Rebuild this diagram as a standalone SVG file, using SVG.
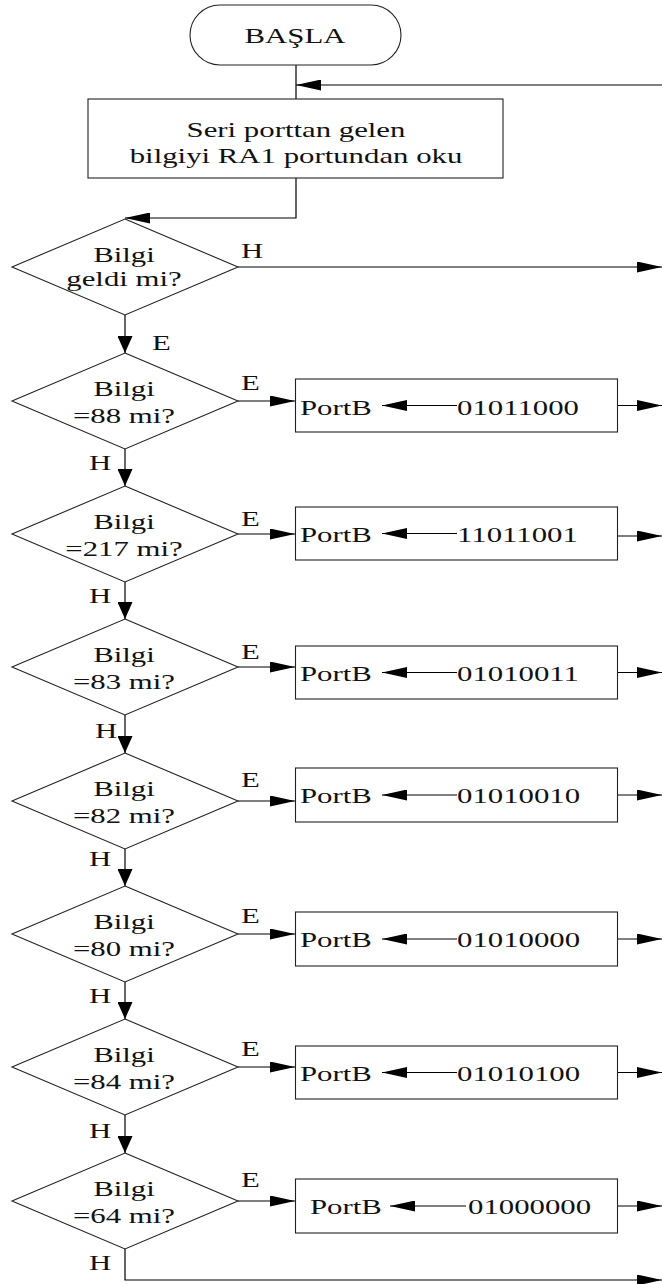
<svg xmlns="http://www.w3.org/2000/svg" width="662" height="1284" viewBox="0 0 662 1284">
  <defs>
    <style>
      .shape { fill: #fff; stroke: #222; stroke-width: 1.1; }
      .wire { fill: none; stroke: #000; stroke-width: 1.2; }
      .h { marker-end: url(#ah); }
      .v { marker-end: url(#av); }
      text { font-family: "Liberation Serif", "Times New Roman", serif; font-size: 22px; fill: #111; }
      .c { text-anchor: middle; }
    </style>
    <!-- long, narrow head for horizontal runs -->
    <marker id="ah" markerUnits="userSpaceOnUse" markerWidth="25" markerHeight="11" refX="25" refY="5.5" orient="auto">
      <path d="M0,0 L25,5.5 L0,11 Z" fill="#000"/>
    </marker>
    <!-- shorter, wider head for vertical runs -->
    <marker id="av" markerUnits="userSpaceOnUse" markerWidth="17" markerHeight="15" refX="17" refY="7.5" orient="auto">
      <path d="M0,0 L17,7.5 L0,15 Z" fill="#000"/>
    </marker>
  </defs>

  <rect width="662" height="1284" fill="#fff"/>

  <!-- connectors -->
  <g id="connectors">
    <path class="wire" d="M296,65 V99"/>
    <path class="wire h" d="M662,85 H296"/>
    <path class="wire h" d="M296,178 V218 H125"/>
    <path class="wire h" d="M238,267 H662"/>
    <path class="wire v" d="M125,315 V353"/>

    <!-- yes branches: decision -> PortB box -> out -->
    <path class="wire h" d="M238,401 H295"/>
    <path class="wire h" d="M617,405.5 H662"/>
    <path class="wire h" d="M238,534 H295"/>
    <path class="wire h" d="M617,536 H662"/>
    <path class="wire h" d="M238,667 H295"/>
    <path class="wire h" d="M617,672.5 H662"/>
    <path class="wire h" d="M238,801 H295"/>
    <path class="wire h" d="M617,795 H662"/>
    <path class="wire h" d="M238,934 H295"/>
    <path class="wire h" d="M617,939 H662"/>
    <path class="wire h" d="M238,1067 H295"/>
    <path class="wire h" d="M617,1072.5 H662"/>
    <path class="wire h" d="M238,1201 H295"/>
    <path class="wire h" d="M617,1206 H662"/>

    <!-- no branches: down the decision chain -->
    <path class="wire v" d="M125,449 V486"/>
    <path class="wire v" d="M125,582 V619"/>
    <path class="wire v" d="M125,715 V753"/>
    <path class="wire v" d="M125,849 V886"/>
    <path class="wire v" d="M125,982 V1019"/>
    <path class="wire v" d="M125,1115 V1153"/>
    <path class="wire h" d="M125,1249 V1280 H662"/>

    <!-- labels on branches -->
    <text transform="translate(241 258) scale(1.4 1)">H</text>
    <text transform="translate(152 350) scale(1.4 1)">E</text>
    <text transform="translate(241 390) scale(1.4 1)">E</text>
    <text transform="translate(241 526) scale(1.4 1)">E</text>
    <text transform="translate(241 659) scale(1.4 1)">E</text>
    <text transform="translate(241 787) scale(1.4 1)">E</text>
    <text transform="translate(241 923) scale(1.4 1)">E</text>
    <text transform="translate(241 1056) scale(1.4 1)">E</text>
    <text transform="translate(241 1187) scale(1.4 1)">E</text>
    <text transform="translate(89 470) scale(1.4 1)">H</text>
    <text transform="translate(89 603) scale(1.4 1)">H</text>
    <text transform="translate(95 738) scale(1.4 1)">H</text>
    <text transform="translate(89 866) scale(1.4 1)">H</text>
    <text transform="translate(89 1003) scale(1.4 1)">H</text>
    <text transform="translate(89 1138) scale(1.4 1)">H</text>
    <text transform="translate(89 1270) scale(1.4 1)">H</text>
  </g>

  <g id="start">
    <rect class="shape" x="190" y="5" width="211" height="60" rx="30"/>
    <text class="c" transform="translate(295 43) scale(1.4 1)">BAŞLA</text>
  </g>

  <g id="read">
    <rect class="shape" x="88" y="99" width="415" height="79"/>
    <text class="c" transform="translate(296 137) scale(1.4 1)">Seri porttan gelen</text>
    <text class="c" transform="translate(296 163) scale(1.4 1)">bilgiyi RA1 portundan oku</text>
  </g>

  <g id="check-received">
    <polygon class="shape" points="125,219 238,267 125,315 12,267"/>
    <text class="c" transform="translate(124 262) scale(1.4 1)">Bilgi</text>
    <text class="c" transform="translate(124 286) scale(1.4 1)">geldi mi?</text>
  </g>

  <g id="check-88">
    <polygon class="shape" points="125,353 238,401 125,449 12,401"/>
    <text class="c" transform="translate(124 396) scale(1.4 1)">Bilgi</text>
    <text class="c" transform="translate(124 423) scale(1.4 1)">=88 mi?</text>
  </g>
  <g id="set-88">
    <rect class="shape" x="295.5" y="379" width="322" height="53"/>
    <text transform="translate(300 415) scale(1.4 1)">PortB</text>
    <path class="wire h" d="M457,405.5 H382"/>
    <text transform="translate(457 415) scale(1.4 1)">01011000</text>
  </g>

  <g id="check-217">
    <polygon class="shape" points="125,486 238,534 125,582 12,534"/>
    <text class="c" transform="translate(124 529) scale(1.4 1)">Bilgi</text>
    <text class="c" transform="translate(124 556) scale(1.4 1)">=217 mi?</text>
  </g>
  <g id="set-217">
    <rect class="shape" x="295.5" y="507" width="322" height="53"/>
    <text transform="translate(300 542) scale(1.4 1)">PortB</text>
    <path class="wire h" d="M457,533.5 H382"/>
    <text transform="translate(457 542) scale(1.4 1)">11011001</text>
  </g>

  <g id="check-83">
    <polygon class="shape" points="125,619 238,667 125,715 12,667"/>
    <text class="c" transform="translate(124 662) scale(1.4 1)">Bilgi</text>
    <text class="c" transform="translate(124 689) scale(1.4 1)">=83 mi?</text>
  </g>
  <g id="set-83">
    <rect class="shape" x="295.5" y="646" width="322" height="53"/>
    <text transform="translate(300 681) scale(1.4 1)">PortB</text>
    <path class="wire h" d="M457,672.5 H382"/>
    <text transform="translate(457 681) scale(1.4 1)">01010011</text>
  </g>

  <g id="check-82">
    <polygon class="shape" points="125,753 238,801 125,849 12,801"/>
    <text class="c" transform="translate(124 796) scale(1.4 1)">Bilgi</text>
    <text class="c" transform="translate(124 823) scale(1.4 1)">=82 mi?</text>
  </g>
  <g id="set-82">
    <rect class="shape" x="295.5" y="768" width="322" height="54"/>
    <text transform="translate(300 803) scale(1.4 1)">PortB</text>
    <path class="wire h" d="M457,795 H382"/>
    <text transform="translate(457 803) scale(1.4 1)">01010010</text>
  </g>

  <g id="check-80">
    <polygon class="shape" points="125,886 238,934 125,982 12,934"/>
    <text class="c" transform="translate(124 929) scale(1.4 1)">Bilgi</text>
    <text class="c" transform="translate(124 956) scale(1.4 1)">=80 mi?</text>
  </g>
  <g id="set-80">
    <rect class="shape" x="295.5" y="912" width="322" height="54"/>
    <text transform="translate(300 947) scale(1.4 1)">PortB</text>
    <path class="wire h" d="M457,939 H382"/>
    <text transform="translate(457 947) scale(1.4 1)">01010000</text>
  </g>

  <g id="check-84">
    <polygon class="shape" points="125,1019 238,1067 125,1115 12,1067"/>
    <text class="c" transform="translate(124 1062) scale(1.4 1)">Bilgi</text>
    <text class="c" transform="translate(124 1089) scale(1.4 1)">=84 mi?</text>
  </g>
  <g id="set-84">
    <rect class="shape" x="295.5" y="1046" width="322" height="53"/>
    <text transform="translate(300 1081) scale(1.4 1)">PortB</text>
    <path class="wire h" d="M457,1072.5 H382"/>
    <text transform="translate(457 1081) scale(1.4 1)">01010100</text>
  </g>

  <g id="check-64">
    <polygon class="shape" points="125,1153 238,1201 125,1249 12,1201"/>
    <text class="c" transform="translate(124 1196) scale(1.4 1)">Bilgi</text>
    <text class="c" transform="translate(124 1223) scale(1.4 1)">=64 mi?</text>
  </g>
  <g id="set-64">
    <rect class="shape" x="295.5" y="1179" width="322" height="54"/>
    <text transform="translate(310 1214) scale(1.4 1)">PortB</text>
    <path class="wire h" d="M466,1206 H390"/>
    <text transform="translate(468 1214) scale(1.4 1)">01000000</text>
  </g>
</svg>
